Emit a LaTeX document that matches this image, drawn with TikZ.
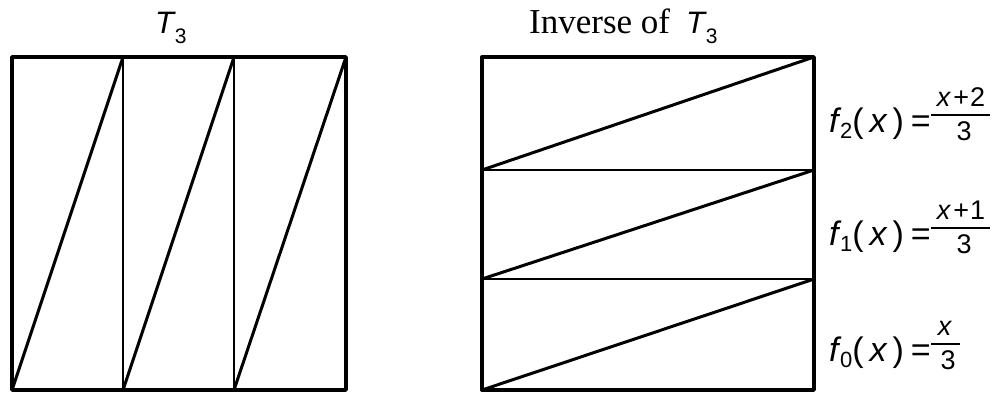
\documentclass[tikz,border=0pt]{standalone}
\usepackage{fontspec}
\setmainfont{Liberation Serif}
\setsansfont{Liberation Sans}
\newcommand{\fsub}[1]{\textit{f}\hspace{-1.5pt}\raisebox{-6pt}{\fontsize{22}{25}\selectfont #1}}
\newcommand{\Tthree}{{\sffamily\fontsize{31}{35}\selectfont\textit{T}\hspace{-1pt}\raisebox{-10pt}{\fontsize{21}{24}\selectfont 3}}}
\tikzset{
  thick line/.style={line width=3.4pt, line cap=round, line join=round},
  thin line/.style={line width=2pt},
  diag/.style={line width=3pt},
  formula/.style={font=\sffamily\fontsize{34}{38}\selectfont, anchor=base west, inner sep=0pt},
  fracpart/.style={font=\sffamily\fontsize{27}{30}\selectfont, anchor=base, inner sep=0pt},
  fracbar/.style={line width=2pt},
  title/.style={inner sep=0pt, anchor=base west},
}
\begin{document}
\begin{tikzpicture}[x=1pt,y=-1pt]
\useasboundingbox (0,0) rectangle (1000,392);
% left square
\coordinate (L0b) at (12,390);  \coordinate (L0t) at (12,57);
\coordinate (L1b) at (123,390); \coordinate (L1t) at (123,57);
\coordinate (L2b) at (234,390); \coordinate (L2t) at (234,57);
\coordinate (L3b) at (346,390); \coordinate (L3t) at (346,57);
\draw[thin line] (L1b) -- (L1t) (L2b) -- (L2t);
\draw[diag] (L0b) -- (L1t) (L1b) -- (L2t) (L2b) -- (L3t);
\draw[thick line] (L0t) rectangle (L3b);
% right square
\coordinate (R0l) at (482,390); \coordinate (R0r) at (814,390);
\coordinate (R1l) at (482,279); \coordinate (R1r) at (814,279);
\coordinate (R2l) at (482,170); \coordinate (R2r) at (814,170);
\coordinate (R3l) at (482,57);  \coordinate (R3r) at (814,57);
\draw[thin line] (R1l) -- (R1r) (R2l) -- (R2r);
\draw[diag] (R0l) -- (R1r) (R1l) -- (R2r) (R2l) -- (R3r);
\draw[thick line] (R3l) rectangle (R0r);
% titles
\node[title] (t1) at (155,33) {\Tthree};
\node[title] (t2) at (529,33) {\fontsize{35}{40}\selectfont Inverse of\hspace{16pt}\Tthree};
% formulas: f2
\node[formula] (f2) at (829,132) {\fsub{2}(\hspace{6pt}\textit{x}\hspace{5pt})\hspace{7pt}=};
\coordinate (b2l) at (931,115); \coordinate (b2r) at (990,115);
\draw[fracbar] (b2l) -- (b2r);
\node[fracpart] (n2) at (961,106) {\textit{x}\hspace{2pt}+\hspace{1pt}2};
\node[fracpart] (d2) at (964,140) {3};
% f1
\node[formula] (f1) at (829,245) {\fsub{1}(\hspace{6pt}\textit{x}\hspace{5pt})\hspace{7pt}=};
\coordinate (b1l) at (931,228); \coordinate (b1r) at (990,228);
\draw[fracbar] (b1l) -- (b1r);
\node[fracpart] (n1) at (961,219) {\textit{x}\hspace{2pt}+\hspace{1pt}1};
\node[fracpart] (d1) at (964,253) {3};
% f0
\node[formula] (f0) at (829,361) {\fsub{0}(\hspace{6pt}\textit{x}\hspace{5pt})\hspace{7pt}=};
\coordinate (b0l) at (931,344); \coordinate (b0r) at (960,344);
\draw[fracbar] (b0l) -- (b0r);
\node[fracpart] (n0) at (945,335) {\textit{x}};
\node[fracpart] (d0) at (948,369) {3};
\end{tikzpicture}
\end{document}
